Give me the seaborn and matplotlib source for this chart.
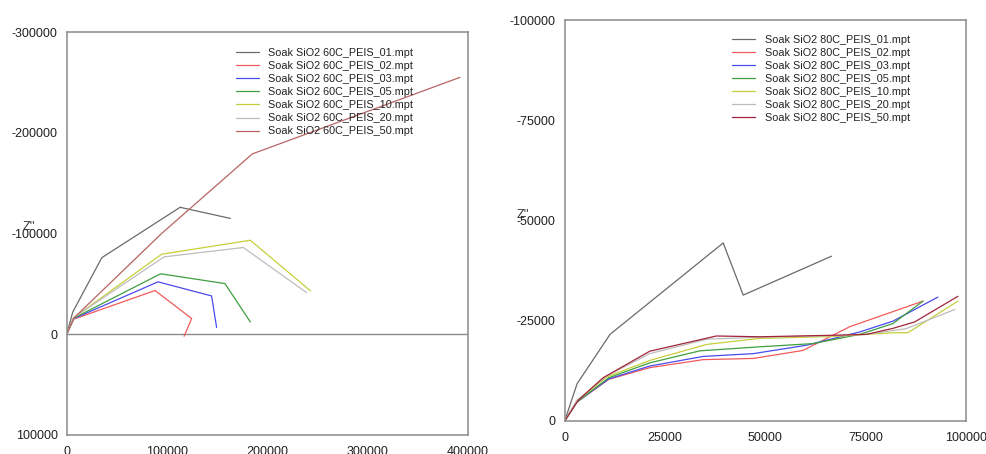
import matplotlib
matplotlib.use("Agg")
import matplotlib.pyplot as plt
from matplotlib.ticker import MultipleLocator
import numpy as np
import pandas as pd
import seaborn as sns

# ---- 60 C soak: Nyquist traces (Z' in Ohm, -Z'' plotted on an inverted axis)
files_60 = ["Soak SiO2 60C_PEIS_01.mpt", "Soak SiO2 60C_PEIS_02.mpt",
            "Soak SiO2 60C_PEIS_03.mpt", "Soak SiO2 60C_PEIS_05.mpt",
            "Soak SiO2 60C_PEIS_10.mpt", "Soak SiO2 60C_PEIS_20.mpt",
            "Soak SiO2 60C_PEIS_50.mpt"]
re_60_01 = [0, 6000, 35000, 113000, 163000]
im_60_01 = [0, -22000, -76000, -126000, -115000]
re_60_02 = [0, 7000, 88000, 124500, 117000]
im_60_02 = [0, -15000, -43400, -15600, 2000]
re_60_03 = [0, 7000, 91000, 144400, 149400]
im_60_03 = [0, -15500, -52000, -38000, -6700]
re_60_05 = [0, 7000, 93600, 157700, 183000]
im_60_05 = [0, -16000, -60000, -50300, -12200]
re_60_10 = [0, 7000, 94600, 183000, 243000]
im_60_10 = [0, -16500, -79400, -93300, -43000]
re_60_20 = [0, 7000, 97000, 176000, 239000]
im_60_20 = [0, -16500, -76800, -86100, -41400]
re_60_50 = [0, 7000, 94600, 185000, 392000]
im_60_50 = [0, -16000, -100000, -179000, -255000]

# ---- 80 C soak
files_80 = ["Soak SiO2 80C_PEIS_01.mpt", "Soak SiO2 80C_PEIS_02.mpt",
            "Soak SiO2 80C_PEIS_03.mpt", "Soak SiO2 80C_PEIS_05.mpt",
            "Soak SiO2 80C_PEIS_10.mpt", "Soak SiO2 80C_PEIS_20.mpt",
            "Soak SiO2 80C_PEIS_50.mpt"]
re_80_01 = [0, 3100, 11300, 39500, 44500, 66500]
im_80_01 = [0, -9300, -21600, -44400, -31400, -41100]
re_80_02 = [0, 3000, 11000, 21200, 34500, 47000, 59400, 71000, 89300]
im_80_02 = [0, -4700, -10400, -13300, -15300, -15600, -17600, -23500, -29900]
re_80_03 = [0, 3000, 11000, 21200, 34500, 47000, 60300, 73500, 81800, 93000]
im_80_03 = [0, -4700, -10500, -13700, -16100, -16800, -18900, -22200, -24900, -30900]
re_80_05 = [0, 3000, 11000, 21200, 33700, 48600, 61900, 73500, 81800, 89300]
im_80_05 = [0, -4700, -10800, -14500, -17500, -18500, -19300, -21600, -24300, -29900]
re_80_10 = [0, 3000, 10500, 21200, 35400, 48600, 67700, 75000, 81800, 85500, 98000]
im_80_10 = [0, -5000, -11000, -15100, -19100, -20600, -21100, -21600, -22000, -22000, -29900]
re_80_20 = [0, 3000, 10400, 21200, 35400, 48600, 67700, 75000, 85000, 97200]
im_80_20 = [0, -5100, -11200, -16800, -20400, -20900, -21300, -21600, -23000, -27800]
re_80_50 = [0, 3400, 9600, 21200, 37800, 48600, 67700, 75200, 81800, 87200, 98000]
im_80_50 = [0, -5200, -10800, -17400, -21200, -21000, -21400, -21600, -23100, -24700, -31100]

x_ticks_60 = [0, 100000, 200000, 300000, 400000]
y_ticks_60 = [-300000, -200000, -100000, 0, 100000]
x_ticks_80 = [0, 25000, 50000, 75000, 100000]
y_ticks_80 = [-100000, -75000, -50000, -25000, 0]

colors_60 = ["#6a6a6a", "#f25a5a", "#4a4af0", "#3f9f3f", "#c6cf3a", "#bdbdbd", "#b86464"]
colors_80 = ["#6a6a6a", "#f25a5a", "#4a4af0", "#3f9f3f", "#c6cf3a", "#bdbdbd", "#a3243a"]


def long_frame(files, res, ims):
    rows = []
    for name, xs, ys in zip(files, res, ims):
        for i, (a, b) in enumerate(zip(xs, ys)):
            rows.append({"file": name, "idx": i, "re": a, "im": b})
    return pd.DataFrame(rows)


df60 = long_frame(files_60,
                  [re_60_01, re_60_02, re_60_03, re_60_05, re_60_10, re_60_20, re_60_50],
                  [im_60_01, im_60_02, im_60_03, im_60_05, im_60_10, im_60_20, im_60_50])
df80 = long_frame(files_80,
                  [re_80_01, re_80_02, re_80_03, re_80_05, re_80_10, re_80_20, re_80_50],
                  [im_80_01, im_80_02, im_80_03, im_80_05, im_80_10, im_80_20, im_80_50])

sns.set_style("white")
plt.rcParams["font.family"] = ["Liberation Sans", "DejaVu Sans"]
plt.rcParams["axes.unicode_minus"] = False

fig = plt.figure(figsize=(9.87, 4.54), dpi=100)
ax1 = fig.add_axes([0.0676, 0.0419, 0.4066, 0.8876])
ax2 = fig.add_axes([0.5721, 0.0727, 0.4066, 0.8832])

spine_col = "#8a8a8a"


def style_axes(ax, xt, yt, xminor, yminor):
    for s in ax.spines.values():
        s.set_color(spine_col)
        s.set_linewidth(1.1)
    ax.set_xticks(xt)
    ax.set_yticks(yt)
    ax.set_xticklabels([str(v) for v in xt])
    ax.set_yticklabels([str(v) for v in yt])
    ax.xaxis.set_minor_locator(MultipleLocator(xminor))
    ax.yaxis.set_minor_locator(MultipleLocator(yminor))
    ax.tick_params(which="both", direction="in", color=spine_col, width=1.0,
                   top=False, right=False, labelsize=9, labelcolor="#222222")
    ax.tick_params(which="major", length=5)
    ax.tick_params(which="minor", length=3.5)
    ax.tick_params(axis="x", which="both", pad=8)
    ax.tick_params(axis="y", which="both", pad=6.5)


def draw(ax, df, files, colors):
    sns.lineplot(data=df, x="re", y="im", hue="file", hue_order=files,
                 palette=colors, units="file", estimator=None, sort=False,
                 linewidth=0.9, ax=ax, legend=False)
    for name, c in zip(files, colors):
        ax.plot([], [], color=c, linewidth=0.9, label=name)


draw(ax1, df60, files_60, colors_60)
ax1.axhline(0, color=spine_col, linewidth=1.0, zorder=1)
ax1.set_xlim(0, 400000)
ax1.set_ylim(100000, -300000)
style_axes(ax1, x_ticks_60, y_ticks_60, 50000, 50000)

draw(ax2, df80, files_80, colors_80)
ax2.set_xlim(0, 100000)
ax2.set_ylim(0, -100000)
style_axes(ax2, x_ticks_80, y_ticks_80, 12500, 12500)

for ax in (ax1, ax2):
    ax.set_xlabel("Z'", fontsize=9, color="#aaaaaa")
    ax.set_ylabel("Z''", fontsize=9, rotation=0, color="#333333")

ax1.xaxis.set_label_coords(0.5, -0.075)
ax2.xaxis.set_label_coords(0.5, -0.085)
ax1.yaxis.set_label_coords(-0.095, 0.5)
ax2.yaxis.set_label_coords(-0.105, 0.5)

leg_kw = dict(frameon=False, fontsize=7.8, loc="upper left", borderpad=0,
              borderaxespad=0, handlelength=2.1, handletextpad=0.9,
              labelspacing=0.28, labelcolor="#222222")
ax1.legend(bbox_to_anchor=(0.4215, 0.960), **leg_kw)
ax2.legend(bbox_to_anchor=(0.418, 0.963), **leg_kw)

fig.savefig("out.png", dpi=100)
